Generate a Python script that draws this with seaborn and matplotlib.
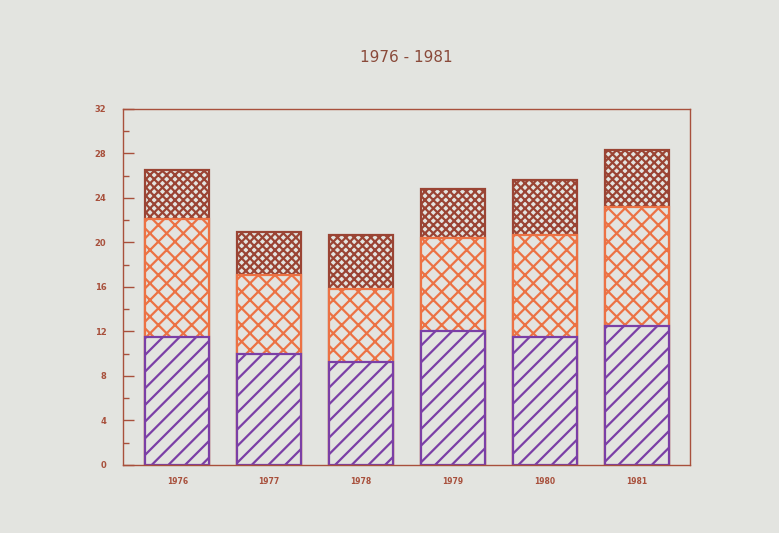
import pandas as pd
import matplotlib
matplotlib.use('Agg')
import matplotlib.pyplot as plt
import seaborn as sns

years = ['1976', '1977', '1978', '1979', '1980', '1981']
# three stacked series (bottom -> top)
purple_vals = [11.5, 10.0, 9.3, 12.0, 11.5, 12.5]
orange_vals = [10.6, 7.1, 6.5, 8.4, 9.2, 10.7]
brown_vals = [4.4, 3.8, 4.9, 4.4, 4.9, 5.1]
y_ticks = [0, 4, 8, 12, 16, 20, 24, 28, 32]

bg = '#e3e4e0'
frame_col = '#a8503c'
sns.set_theme(style='white')
plt.rcParams['font.family'] = ['DejaVu Sans']
plt.rcParams['hatch.linewidth'] = 1.6

df = pd.DataFrame({'year': years, 'purple': purple_vals,
                   'orange': orange_vals, 'brown': brown_vals})
df['mid'] = df['purple'] + df['orange']
df['top'] = df['mid'] + df['brown']

fig = plt.figure(figsize=(7.79, 5.33), dpi=100, facecolor=bg)
ax = fig.add_axes([0.158, 0.1276, 0.728, 0.668])
ax.set_facecolor(bg)

# draw tallest first, then cover with the shorter ones (opaque face = background)
layers = [('top', '#9a4434', 'xxxx'), ('mid', '#ec7244', 'xx'), ('purple', '#7b3fa6', '//')]
for col, ec, hatch in layers:
    n0 = len(ax.patches)
    sns.barplot(data=df, x='year', y=col, color=bg, width=0.7, ax=ax,
                saturation=1, linewidth=1.6, edgecolor=ec)
    for p in ax.patches[n0:]:
        p.set_facecolor(bg)
        p.set_edgecolor(ec)
        p.set_hatch(hatch)

ax.set_xlabel('')
ax.set_ylabel('')
ax.set_ylim(0, 32)
ax.set_xlim(-0.59, 5.58)
ax.set_yticks(y_ticks)
ax.set_yticks(range(2, 32, 4), minor=True)
ax.tick_params(axis='y', which='major', direction='in', length=8, width=1,
               color=frame_col, labelsize=6, labelcolor=frame_col, pad=12, left=True)
ax.tick_params(axis='y', which='minor', direction='in', length=4, width=1,
               color=frame_col, left=True)
ax.tick_params(axis='x', length=0, labelsize=5.5, labelcolor=frame_col, pad=9)
for lab in ax.get_xticklabels() + ax.get_yticklabels():
    lab.set_fontweight('bold')
for s in ax.spines.values():
    s.set_visible(True)
    s.set_color(frame_col)
    s.set_linewidth(1)

fig.text(0.522, 0.893, '1976 - 1981', ha='center', va='center',
         fontsize=11, color='#8a4a3a')

fig.savefig('out.png', dpi=100, facecolor=bg)
